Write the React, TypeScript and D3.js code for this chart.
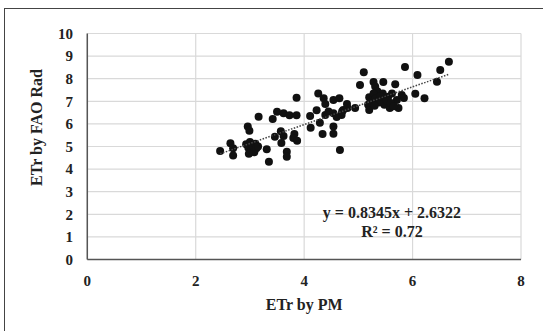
import React from "react";
import * as d3 from "d3";

const xValues = [
  2.45, 2.64, 2.69, 2.69, 2.96, 2.99, 2.93, 2.97, 3.0, 3.02, 3.05, 3.08, 3.1, 3.12, 2.98, 3.15,
  3.16, 3.31, 3.35, 3.42, 3.5, 3.46, 3.57, 3.58, 3.62, 3.62, 3.68, 3.68, 3.73, 3.86, 3.82, 3.8,
  3.87, 3.86, 4.11, 4.12, 4.26, 4.23, 4.29, 4.34, 4.36, 4.39, 4.39, 4.54, 4.65, 4.54, 4.54, 4.54,
  4.66, 4.69, 4.72, 4.79, 4.94, 5.03, 5.1, 5.18, 5.2, 5.2, 5.24, 5.28, 5.31, 5.35, 5.28, 5.43,
  5.46, 5.45, 5.48, 5.55, 5.58, 5.62, 5.68, 5.71, 5.74, 5.8, 5.86, 5.84, 6.05, 6.09, 6.22, 6.45,
  6.51, 6.67, 5.22, 5.32, 5.38, 5.4, 5.52, 5.6, 5.65, 5.3, 4.45, 4.6, 4.7, 4.8
];
const yValues = [
  4.8, 5.14, 4.92, 4.6, 5.88, 5.7, 5.1, 4.95, 5.2, 4.85, 5.05, 4.75, 5.12, 4.92, 4.68, 5.0,
  6.32, 4.88, 4.33, 6.22, 6.54, 5.43, 5.68, 5.15, 6.47, 5.47, 4.77, 4.55, 6.38, 7.16, 5.55, 5.38,
  5.25, 6.38, 6.35, 5.83, 7.35, 6.6, 6.05, 5.55, 7.13, 6.88, 6.39, 7.06, 7.13, 6.47, 5.88, 5.56,
  4.85, 6.39, 6.62, 6.88, 6.7, 7.72, 8.28, 6.85, 6.62, 7.18, 7.02, 7.85, 7.65, 7.45, 7.35, 7.08,
  7.85, 7.35, 6.85, 7.2, 6.7, 7.35, 7.75, 7.06, 6.7, 7.28, 8.52, 7.15, 7.33, 8.16, 7.13, 7.87,
  8.38, 8.75, 6.95, 7.12, 6.95, 7.22, 7.05, 6.92, 6.78, 6.8, 6.55, 6.3, 6.55, 6.7
];
const xTicks = [0, 2, 4, 6, 8];
const yTicks = [0, 1, 2, 3, 4, 5, 6, 7, 8, 9, 10];
const slope = 0.8345;
const intercept = 2.6322;
const equationText = "y = 0.8345x + 2.6322";
const r2Text = "R² = 0.72";
const xTitle = "ETr by PM";
const yTitle = "ETr by FAO Rad";

const W = 543;
const H = 331;
const left = 87.3;
const right = 521;
const top = 33.5;
const bottom = 259.5;
const font = "'Liberation Serif', 'Times New Roman', serif";

export default function App() {
  const x = d3.scaleLinear().domain([0, 8]).range([left, right]);
  const y = d3.scaleLinear().domain([0, 10]).range([bottom, top]);
  const points = xValues.map((v, i) => [v, yValues[i]] as [number, number]);
  const xMin = d3.min(xValues) as number;
  const xMax = d3.max(xValues) as number;
  const line = d3.line<number>().x((d) => x(d)).y((d) => y(slope * d + intercept));

  return (
    <svg
      width={W}
      height={H}
      style={{ position: "absolute", left: 0, top: 0, display: "block", background: "#fff" }}
      fontFamily={font}
    >
      <rect x={4.5} y={8.5} width={600} height={400} fill="#fff" stroke="#444" strokeWidth={1} />
      {yTicks.map((t) => (
        <line key={"gy" + t} x1={left} x2={right} y1={y(t)} y2={y(t)} stroke="#d9d9d9" strokeWidth={1.2} />
      ))}
      {xTicks.map((t) => (
        <line key={"gx" + t} x1={x(t)} x2={x(t)} y1={top} y2={bottom} stroke="#d9d9d9" strokeWidth={1.2} />
      ))}
      <line x1={left} x2={left} y1={top} y2={bottom} stroke="#555" strokeWidth={1.5} />
      <line x1={left} x2={right} y1={bottom} y2={bottom} stroke="#555" strokeWidth={1.5} />
      {points.map((p, i) => (
        <circle key={i} cx={x(p[0])} cy={y(p[1])} r={4} fill="#111" />
      ))}
      <path d={line([xMin, xMax]) || ""} fill="none" stroke="#444" strokeWidth={1.5} strokeDasharray="1.5,1.5" />
      {yTicks.map((t) => (
        <text key={"ty" + t} x={73} y={y(t)} dy="0.35em" textAnchor="end" fontSize={15} fontWeight="bold" fill="#222">
          {t}
        </text>
      ))}
      {xTicks.map((t) => (
        <text key={"tx" + t} x={x(t)} y={286} textAnchor="middle" fontSize={15} fontWeight="bold" fill="#222">
          {t}
        </text>
      ))}
      <text x={x(4)} y={310} textAnchor="middle" fontSize={16} fontWeight="bold" fill="#222">
        {xTitle}
      </text>
      <text
        transform={`translate(42, ${(top + bottom) / 2 - 19}) rotate(-90)`}
        textAnchor="middle"
        fontSize={16}
        fontWeight="bold"
        fill="#222"
      >
        {yTitle}
      </text>
      <text x={x(5.62)} y={y(1.84)} textAnchor="middle" fontSize={16} fontWeight="bold" fill="#222">
        {equationText}
      </text>
      <text x={x(5.62)} y={y(1.0)} textAnchor="middle" fontSize={16} fontWeight="bold" fill="#222">
        {r2Text}
      </text>
    </svg>
  );
}
